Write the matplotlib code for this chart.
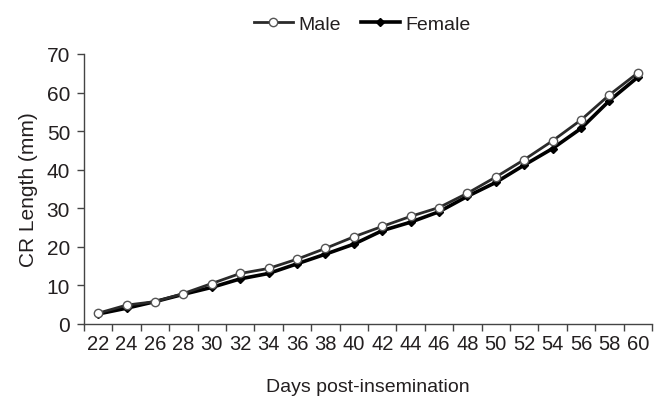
import matplotlib
matplotlib.use("Agg")
import matplotlib.pyplot as plt
import numpy as np

days = [22, 24, 26, 28, 30, 32, 34, 36, 38, 40, 42, 44, 46, 48, 50, 52, 54, 56, 58, 60]
male = [2.8, 4.9, 5.8, 7.9, 10.5, 13.1, 14.4, 16.8, 19.6, 22.6, 25.3, 27.9, 30.2, 33.9, 38.1, 42.6, 47.5, 52.9, 59.4, 65.1]
female = [2.6, 4.1, 5.8, 7.7, 9.5, 11.7, 13.1, 15.6, 18.1, 20.7, 24.2, 26.4, 29.1, 33.1, 36.7, 41.2, 45.5, 50.7, 57.9, 64.0]
yticks = [0, 10, 20, 30, 40, 50, 60, 70]

plt.rcParams['font.family'] = ['Liberation Sans', 'DejaVu Sans']
txt = '#231f20'

fig = plt.figure(figsize=(6.67, 4.06), dpi=100)
ax = fig.add_axes([84/667, 1-325/406, (652-84)/667, (325-55)/406])

x = np.arange(len(days))
ax.plot(x, female, color='black', lw=2.6, marker='D', ms=4.5, mfc='black', mec='black',
        label='Female', zorder=2)
ax.plot(x, male, color='#2a2a2a', lw=2.0, marker='o', ms=6, mfc='white', mec='#555555',
        mew=1.0, label='Male', zorder=3)

ax.set_xlim(-0.5, len(days) - 0.5)
ax.set_ylim(0, 70)
ax.set_yticks(yticks)
ax.set_xticks(np.arange(len(days) + 1) - 0.5)
ax.set_xticklabels([])
ax.set_xticks(x, minor=True)
ax.set_xticklabels([str(d) for d in days], minor=True)
ax.tick_params(axis='x', which='minor', length=0, pad=7, labelsize=14.5, labelcolor=txt)
ax.tick_params(axis='x', which='major', length=5, width=1, color='#444444', direction='out')
ax.tick_params(axis='y', length=5, width=1, color='#444444', labelsize=15, labelcolor=txt, pad=5)

for s in ['top', 'right']:
    ax.spines[s].set_visible(False)
for s in ['left', 'bottom']:
    ax.spines[s].set_color('#444444')
    ax.spines[s].set_linewidth(1.0)

ax.set_ylabel('CR Length (mm)', fontsize=15, color=txt, labelpad=6)
ax.set_xlabel('Days post-insemination', fontsize=14, color=txt, labelpad=18)

h, l = ax.get_legend_handles_labels()
ax.legend(h[::-1], l[::-1], loc='lower center', bbox_to_anchor=(0.49, 1.05), ncol=2, frameon=False,
          fontsize=14, handlelength=2.0, handletextpad=0.3, columnspacing=1.0,
          labelcolor=txt, borderaxespad=0.0)

fig.savefig('out.png', dpi=100)
